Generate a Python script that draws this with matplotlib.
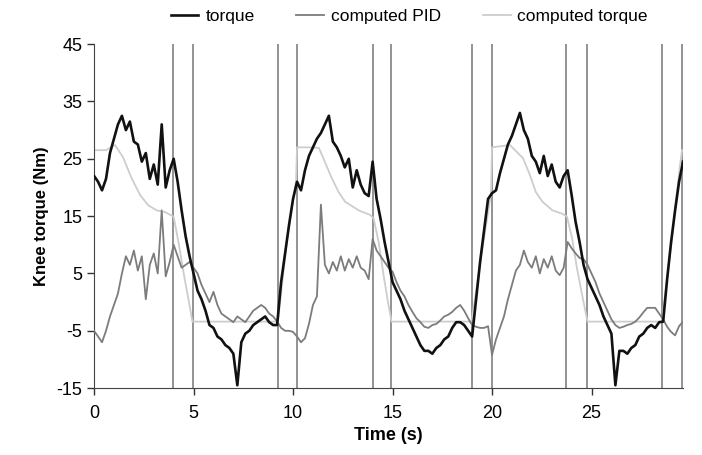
import numpy as np
import matplotlib
matplotlib.use("Agg")
from matplotlib import pyplot as plt

# sample times (s) for the measured torque and the PID output
time = np.round(np.arange(0, 29.61, 0.2), 1)

torque = [
    22, 21, 19.5, 21.5, 26, 28.5, 31, 32.5, 30, 31.5,
    28, 27.5, 24.5, 26, 21.5, 24, 20.5, 31, 20, 23,
    25, 21, 16, 11.5, 8, 5, 2, 0.5, -1.5, -4,
    -4.5, -6, -6.5, -7.5, -8, -9, -14.5, -7, -5.5, -5,
    -4, -3.5, -3, -2.5, -3.5, -4, -4, 3.5, 8.5, 13.5,
    18, 21, 19.5, 23, 25.5, 27, 28.5, 29.5, 31, 32.5,
    28, 27, 25.5, 23.5, 25, 20, 23, 20.5, 19, 18.5,
    24.5, 18, 14.5, 10.5, 7, 3.5, 2, 0.5, -1.5, -3,
    -4.5, -6, -7.5, -8.5, -8.5, -9, -8, -7.5, -6.5, -6,
    -4.5, -3.5, -3.5, -4, -5, -6, 0.5, 7, 12.5, 18,
    19, 19.5, 22.5, 25, 27.5, 29, 31, 33, 30, 28.5,
    25.5, 24.5, 22.5, 25.5, 22, 24, 21, 20, 22, 23,
    18.7, 14, 10.5, 6.5, 4, 2.5, 1, -0.5, -2.5, -4,
    -5.5, -14.5, -8.5, -8.5, -9, -8, -7.5, -6, -5.5, -4.5,
    -4, -4.5, -3.5, -3.4, 4, 10.5, 16, 21, 24.5,
]

computed_pid = [
    -5, -6, -7, -5, -2.5, -0.5, 1.5, 5, 8, 6.5,
    9, 5.5, 8, 0.5, 6.5, 8.5, 5, 16, 4.5, 7,
    10, 8, 6, 6.5, 7, 6, 5, 3, 1.5, 0,
    1.8, -0.5, -2, -2.5, -3, -3.5, -2.5, -3, -3.5, -2.5,
    -1.5, -1, -0.5, -1, -2, -2.5, -3.4, -4.5, -5, -5,
    -5.2, -6, -7, -6.3, -3.8, -0.5, 1, 17, 6.5, 5,
    7, 5.5, 8, 5.5, 7.5, 6, 8, 6, 5.5, 4,
    11, 9, 8, 7, 6, 5.3, 3.5, 2, 1, -0.5,
    -1.7, -2.8, -3.5, -4.3, -4.5, -4, -3.8, -3.2, -2.5, -2.2,
    -1.7, -1, -0.5, -1.5, -2.8, -4, -4.3, -4.5, -4.5, -4.2,
    -9.2, -6.5, -4.5, -2.5, 0.5, 3, 5.5, 6.5, 9, 7,
    6, 8, 5, 7.5, 6, 8, 5.5, 4.7, 6, 10.5,
    9.4, 8.5, 7.7, 7.5, 6.5, 5, 3.5, 1.5, 0, -1.5,
    -3, -4, -4.5, -4.3, -4, -3.8, -3.4, -2.7, -1.8, -1,
    -1, -1, -2, -3, -4.3, -5.2, -5.8, -4.2, -3.4,
]

# the model torque is smooth, so it has its own break points
ct_time = [0, 0.6, 1.05, 1.45, 1.89, 2.31, 2.72, 3.15, 3.57, 4.0, 4.27, 4.52,
           4.77, 4.94, 9.24, 9.7, 10.15, 10.2, 10.8, 11.3, 11.95, 12.29, 12.62,
           13.3, 13.88, 14.05, 14.3, 14.55, 14.77, 14.95, 18.97, 19.5, 19.95,
           20.0, 20.9, 21.56, 21.9, 22.2, 22.54, 23.04, 23.54, 23.77, 24.02,
           24.27, 24.53, 24.8, 28.54, 29.0, 29.45, 29.55]
computed_torque = [26.5, 26.5, 27.4, 25.3, 21.6, 18.7, 16.9, 16.0, 15.7, 14.9,
                   9.9, 4.7, 0.0, -3.4, -3.4, 11, 21, 27, 27, 26.9, 21.6, 19.2,
                   17.5, 16, 15.2, 14.6, 10.5, 4.7, 0, -3.4, -3.4, 9, 19, 27,
                   27.4, 25.1, 22.2, 19.2, 17.5, 16, 15.4, 14.9, 11.2, 5.9, 1.2,
                   -3.4, -3.4, 10, 24, 26.5]

# gait event markers (s)
events = [3.98, 4.99, 9.24, 10.2, 14.0, 14.92, 18.97, 20.0, 23.72, 24.75, 28.54, 29.56]

x_ticks = [0, 5, 10, 15, 20, 25]
y_ticks = [-15, -5, 5, 15, 25, 35, 45]

plt.rcParams['font.family'] = ['Liberation Sans', 'DejaVu Sans']
plt.rcParams['axes.unicode_minus'] = False


def main():
    fig = plt.figure(figsize=(7.02, 4.55), dpi=100)
    ax = fig.add_axes([0.134, 0.147, 0.839, 0.756])

    for ev in events:
        ax.axvline(ev, color='#8a8a8a', lw=1.3, zorder=1)

    ax.plot(ct_time, computed_torque, color='#cdcdcd', lw=1.3, zorder=2,
            label='computed torque')
    ax.plot(time, computed_pid, color='#7c7c7c', lw=1.3, zorder=3,
            label='computed PID')
    ax.plot(time, torque, color='#111111', lw=1.9, zorder=4, label='torque')

    ax.set_xlim(0, 29.6)
    ax.set_ylim(-15, 45)
    ax.set_xticks(x_ticks)
    ax.set_yticks(y_ticks)
    ax.tick_params(direction='out', length=5, width=1, colors='#333333',
                   labelsize=13, labelcolor='black')
    ax.tick_params(axis='x', pad=7)
    for s in ['top', 'right']:
        ax.spines[s].set_visible(False)
    for s in ['left', 'bottom']:
        ax.spines[s].set_color('#444444')

    ax.set_xlabel('Time (s)', fontsize=13, fontweight='bold', labelpad=4)
    ax.set_ylabel('Knee torque (Nm)', fontsize=12, fontweight='bold', labelpad=5)

    h, l = ax.get_legend_handles_labels()
    order = [2, 1, 0]
    fig.legend([h[i] for i in order], [l[i] for i in order], ncol=3,
               loc='center', bbox_to_anchor=(0.583, 0.963), frameon=False,
               fontsize=12.5, handlelength=1.6, handletextpad=0.4,
               columnspacing=2.4)

    fig.savefig('out.png', dpi=100)


if __name__ == "__main__":
    main()
